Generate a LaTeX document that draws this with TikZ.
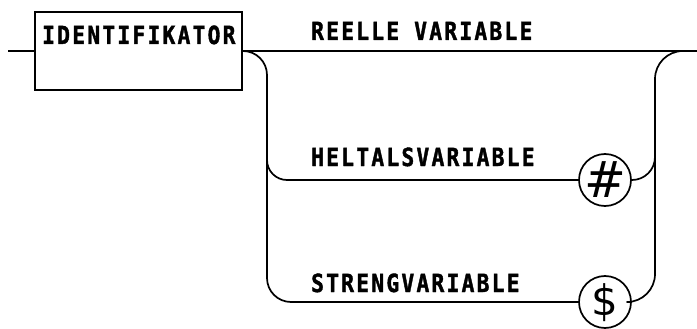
\documentclass[tikz,border=0pt]{standalone}
\usepackage{fontspec}
\newfontfamily\labfont[FakeStretch=0.85,LetterSpace=9,FakeBold=1.5]{DejaVu Sans Mono}
\newfontfamily\symfont{DejaVu Sans}
\begin{document}
\begin{tikzpicture}[x=1pt,y=-1pt,
  line/.style={line width=1.7pt,line join=round},
  lab/.style={font=\labfont\bfseries\fontsize{25}{25}\selectfont,inner sep=0pt,anchor=base west},
  box/.style={draw,line width=1.7pt,minimum width=207pt,minimum height=78pt,inner sep=0pt},
  term/.style={draw,circle,line width=1.7pt,minimum size=52pt,inner sep=0pt},
  sym/.style={font=\symfont\fontsize{50}{50}\selectfont,inner sep=0pt}]
\useasboundingbox (0,0) rectangle (697,329);
\node[box] (ident) at (138.5,51) {};
\node[lab] (identtxt) at (42,44) {IDENTIFIKATOR};
\coordinate (in) at (8,51);
\coordinate (out) at (697,51);
\node[term] (hash) at (605,180) {};
\node[sym] (hashsym) at (hash.center) {\#};
\node[term] (dollar) at (605,302) {};
\node[sym,font=\symfont\fontsize{42}{42}\selectfont] (dollarsym) at ([yshift=-1pt]dollar.center) {\$};
\coordinate (lx) at (267,150);
\coordinate (rx) at (655,51);
\coordinate (rmid) at (655,140);
\node[lab] (reell) at (311,40) {REELLE VARIABLE};
\node[lab] (heltal) at (311,166) {HELTALSVARIABLE};
\node[lab] (streng) at (311,292) {STRENGVARIABLE};
\draw[line] (in) -- (ident.west);
\draw[line] (ident.east) -- (out);
\draw[line,rounded corners=24pt] (ident.east) -| (lx |- dollar.west) -- (dollar.west);
\draw[line,rounded corners=20pt] (lx) |- (hash.west);
\draw[line,rounded corners=28pt] (dollar.east) -| (rx) -- (out);
\draw[line,rounded corners=23pt] (hash.east) -| (rmid);
\end{tikzpicture}
\end{document}
